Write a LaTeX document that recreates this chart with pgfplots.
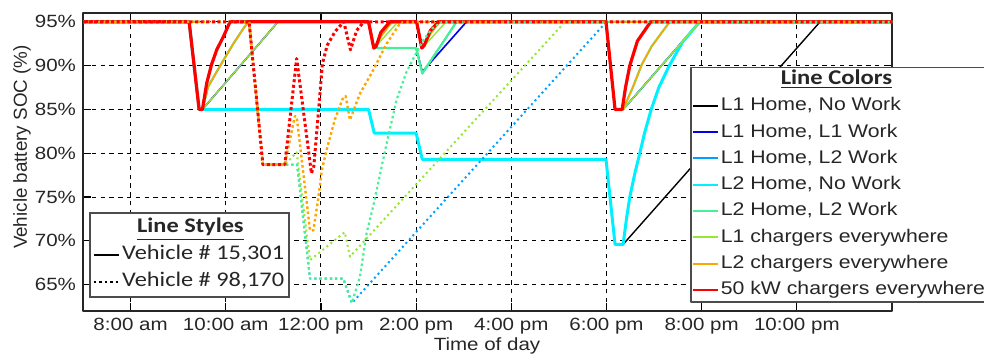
\documentclass[border=0pt]{standalone}
\usepackage{fontspec}
\setmainfont{Liberation Sans}[FakeStretch=1.16]
\newfontfamily\plainsans{Liberation Sans}
\newfontfamily\carl{Carlito}[FakeStretch=1.17]
\usepackage{pgfplots}
\pgfplotsset{compat=1.18}
\definecolor{cBlue}{RGB}{0,0,235}
\definecolor{cLB}{RGB}{0,160,255}
\definecolor{cCyan}{RGB}{0,240,255}
\definecolor{cSea}{RGB}{70,240,150}
\definecolor{cLG}{RGB}{150,230,50}
\definecolor{cOr}{RGB}{255,165,0}
\definecolor{cRed}{RGB}{255,0,0}
\begin{document}
\begin{tikzpicture}
\begin{axis}[
  at={(0,0)}, anchor=south west,
  scale only axis, width=404.5pt, height=149pt,
  xmin=7, xmax=24, ymin=62, ymax=96,
  xtick={8,10,12,14,16,18,20,22},
  xticklabels={8:00 am,10:00 am,12:00 pm,2:00 pm,4:00 pm,6:00 pm,8:00 pm,10:00 pm},
  ytick={65,70,75,80,85,90,95},
  yticklabels={65\%,70\%,75\%,80\%,85\%,90\%,95\%},
  tick align=inside, major tick length=4pt,
  every tick/.style={black, line width=0.6pt},
  xmajorgrids, ymajorgrids,
  major grid style={black, line width=0.55pt, dash pattern=on 2.2pt off 2.2pt},
  axis line style={black!85, line width=1pt},
  tick label style={font=\fontsize{8.85}{10}\selectfont, text=black!85},
  xlabel={Time of day},
  xlabel style={font=\fontsize{8.85}{10}\selectfont, text=black!85, at={(axis description cs:0.4994,-0.1174)}, anchor=center},
  ylabel={Vehicle battery SOC (\%)},
  ylabel style={font=\plainsans\fontsize{9.4}{10}\selectfont, text=black!85, at={(axis description cs:-0.0754,0.55)}, anchor=center},
  legend style={at={(rel axis cs:0.7503,0.8198)}, anchor=north west,
    draw=black!70, line width=0.8pt, fill=white, text=black!85,
    font=\fontsize{9.15}{10}\selectfont,
    inner sep=0.5pt, row sep=2.15pt, column sep=0pt,
    nodes={inner sep=1pt, text height=7pt, text depth=2pt}},
  legend cell align=left,
  legend image code/.code={\draw[#1, line width=1pt, solid] (0pt,0pt) -- (12.5pt,0pt);},
  line join=round,
]
\addlegendimage{empty legend}
\addlegendentry{\makebox[136pt][l]{\hspace*{30pt}{\carl\fontsize{10.5}{11}\selectfont\bfseries\underline{Line Colors}}}}
% ---- Vehicle 15,301 (solid) ----
\addplot[black, line width=0.7pt] coordinates {(7,95)(9.23,95)(9.44,85)(13.0,85)(13.12,82.3)(14.0,82.3)(14.13,79.3)(17.99,79.3)(18.18,69.6)(18.35,69.6)(22.49,95)(24,95)};
\addlegendentry{L1 Home, No Work}
\addplot[cBlue, line width=0.8pt] coordinates {(7,95)(9.23,95)(9.44,85)(9.51,85)(11.10,95)(13.0,95)(13.12,92)(14.0,92)(14.13,89.3)(15.06,95)(17.99,95)(18.18,85)(18.35,85)(19.96,95)(24,95)};
\addlegendentry{L1 Home, L1 Work}
\addplot[cLB, line width=0.8pt] coordinates {(7,95)(9.23,95)(9.44,85)(9.51,85)(9.63,87.6)(9.81,89.3)(9.95,90.6)(10.16,92.5)(10.33,93.9)(10.47,95)(13.0,95)(13.12,92)(14.0,92)(14.13,89.1)(14.36,91.0)(14.57,92.7)(14.85,95)(17.99,95)(18.18,85)(18.35,85)(19.96,95)(24,95)};
\addlegendentry{L1 Home, L2 Work}
\addplot[cCyan, line width=1.5pt] coordinates {(7,95)(9.23,95)(9.44,85)(13.0,85)(13.12,82.3)(14.0,82.3)(14.13,79.3)(17.99,79.3)(18.18,69.6)(18.35,69.6)(18.42,72.5)(18.49,75)(18.6,77.8)(18.70,80)(18.8,82.3)(18.94,85)(19.1,87.5)(19.32,90)(19.6,92.7)(19.96,95)(24,95)};
\addlegendentry{L2 Home, No Work}
\addplot[cSea, line width=1.1pt] coordinates {(7,95)(9.23,95)(9.44,85)(9.51,85)(9.63,87.6)(9.81,89.3)(9.95,90.6)(10.16,92.5)(10.33,93.9)(10.47,95)(13.0,95)(13.12,92)(14.0,92)(14.13,89.1)(14.36,91.0)(14.57,92.7)(14.85,95)(17.99,95)(18.18,85)(18.35,85)(18.56,87.6)(18.74,90.1)(18.95,92.2)(19.33,95)(24,95)};
\addlegendentry{L2 Home, L2 Work}
\addplot[cLG, line width=0.7pt] coordinates {(7,95)(9.23,95)(9.44,85)(9.51,85)(11.10,95)(13.0,95)(13.12,92)(13.62,95)(14.0,95)(14.13,92)(14.63,95)(17.99,95)(18.18,85)(18.35,85)(19.96,95)(24,95)};
\addlegendentry{L1 chargers everywhere}
\addplot[cOr, line width=0.8pt] coordinates {(7,95)(9.23,95)(9.44,85)(9.51,85)(9.63,87.6)(9.81,89.3)(9.95,90.6)(10.16,92.5)(10.33,93.9)(10.47,95)(13.0,95)(13.12,92)(13.3,93.6)(13.5,95)(14.0,95)(14.13,92)(14.3,93.6)(14.5,95)(17.99,95)(18.18,85)(18.35,85)(18.56,87.6)(18.74,90.1)(18.95,92.2)(19.33,95)(24,95)};
\addlegendentry{L2 chargers everywhere}
\addplot[cRed, line width=1.6pt] coordinates {(7,95)(9.23,95)(9.44,85)(9.51,85)(9.6,88)(9.7,90.1)(9.81,91.8)(9.95,93.3)(10.09,95)(13.0,95)(13.11,92)(13.16,92.2)(13.26,93.8)(13.45,95)(14.01,95)(14.12,92)(14.17,92.3)(14.3,94)(14.47,95)(17.99,95)(18.18,85)(18.33,85)(18.4,87.5)(18.49,90)(18.65,92.8)(18.93,95)(24,95)};
\addlegendentry{50 kW chargers everywhere}
% ---- Vehicle 98,170 (dotted) ----
\addplot[forget plot, cLB, line width=1pt, dash pattern=on 1pt off 1.6pt] coordinates {(7,95)(10.49,95)(10.78,78.7)(11.5,78.7)(11.77,65.7)(12.47,65.7)(12.65,62.9)(18.0,95)(24,95)};
\addplot[forget plot, cSea, line width=1.1pt, dash pattern=on 1.2pt off 1.4pt] coordinates {(7,95)(10.49,95)(10.78,78.7)(11.5,78.7)(11.77,65.7)(12.47,65.7)(12.65,62.9)(12.82,65.9)(12.96,70.9)(13.1,74.0)(13.38,81.1)(13.59,86.1)(13.8,89.3)(13.94,90.8)(14.15,92.9)(14.35,94.3)(14.55,95)(24,95)};
\addplot[forget plot, cLG, line width=1pt, dash pattern=on 1pt off 1.6pt] coordinates {(7,95)(10.49,95)(10.78,78.7)(11.24,78.7)(11.49,80.1)(11.77,67.8)(12.5,71.0)(12.61,68.2)(17.13,95)(24,95)};
\addplot[forget plot, cOr, line width=1.2pt, dash pattern=on 1.3pt off 1.3pt] coordinates {(7,95)(10.49,95)(10.78,78.7)(11.24,78.7)(11.45,84.2)(11.49,84.2)(11.77,71.2)(11.84,71.2)(11.94,74.7)(12.02,78.1)(12.12,80.4)(12.29,83.8)(12.47,86.4)(12.52,86.5)(12.61,83.8)(12.82,86.8)(13.1,89.5)(13.38,92.5)(13.66,94.8)(13.75,95)(24,95)};
\addplot[forget plot, cRed, line width=1.5pt, dash pattern=on 1.5pt off 1.3pt] coordinates {(7,95)(10.49,95)(10.78,78.7)(11.24,78.7)(11.49,90.8)(11.8,77.7)(11.85,78.5)(11.96,85.5)(12.03,90.2)(12.13,92.3)(12.3,93.9)(12.48,95)(12.62,91.8)(12.75,94)(12.9,95)(24,95)};
\end{axis}
\begin{axis}[
  at={(0,0)}, anchor=south west,
  scale only axis, width=404.5pt, height=149pt,
  hide axis, xmin=0, xmax=1, ymin=0, ymax=1,
  legend style={at={(rel axis cs:0.0074,0.332)}, anchor=north west,
    draw=black!70, line width=0.8pt, fill=white, text=black!85,
    font=\carl\fontsize{10.4}{11}\selectfont,
    inner sep=1.5pt, row sep=1.5pt, column sep=0pt,
    nodes={inner sep=1pt, text height=7.5pt, text depth=2.5pt}},
  legend cell align=left,
  legend image code/.code={\draw[#1] (0pt,0pt) -- (12.5pt,0pt);},
]
\addlegendimage{empty legend}
\addlegendentry{\hspace*{7.5pt}\bfseries\underline{Line Styles}}
\addlegendimage{black, line width=1.2pt}
\addlegendentry{Vehicle \# 15,301}
\addlegendimage{black, line width=1.2pt, dash pattern=on 1.2pt off 1.5pt}
\addlegendentry{Vehicle \# 98,170}
\end{axis}
\pgfresetboundingbox
\useasboundingbox (-41.5pt,-23pt) rectangle (450.5pt,155.5pt);
\end{tikzpicture}
\end{document}
